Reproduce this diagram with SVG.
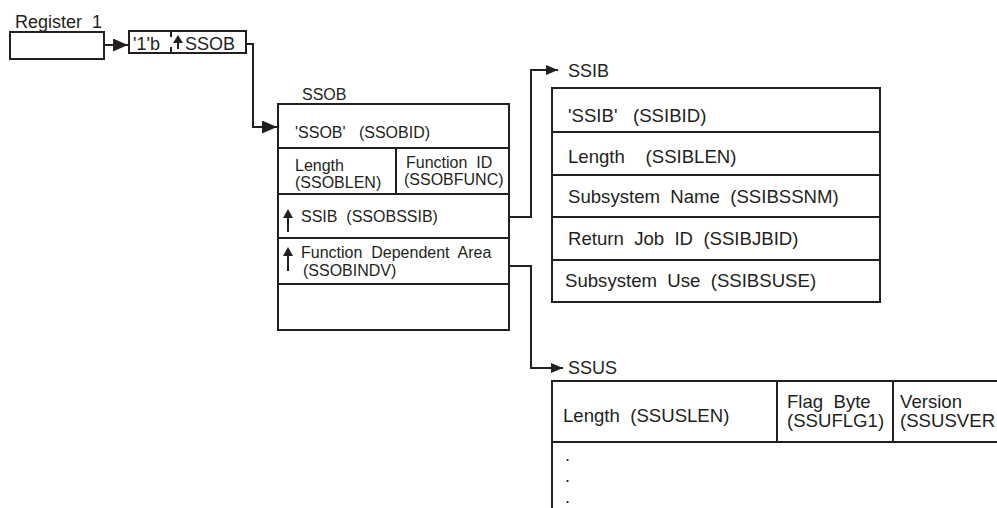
<svg xmlns="http://www.w3.org/2000/svg" width="997" height="508" viewBox="0 0 997 508">
<style>
  .box { fill: #ffffff; stroke: #231f20; stroke-width: 2; }
  .ln { fill: none; stroke: #231f20; stroke-width: 2; }
  .t { font-family: "Liberation Sans", Arial, sans-serif; fill: #231f20; white-space: pre; }
  .s16 { font-size: 16px; }
  .s18 { font-size: 18px; }
  .s185 { font-size: 18.6px; }
  .up { fill: #231f20; stroke: none; }
  .upstem { stroke: #231f20; stroke-width: 2; }
</style>
<defs>
  <marker id="bigArrow" markerUnits="userSpaceOnUse" markerWidth="15" markerHeight="13" refX="15" refY="6.5" orient="auto">
    <path d="M0,0 L15,6.5 L0,13 Z" fill="#231f20"/>
  </marker>
  <marker id="smallArrow" markerUnits="userSpaceOnUse" markerWidth="12" markerHeight="10" refX="12" refY="5" orient="auto">
    <path d="M0,0 L12,5 L0,10 Z" fill="#231f20"/>
  </marker>
</defs>

<g id="register1">
  <text class="t s18" x="15" y="28" xml:space="preserve">Register  1</text>
  <rect class="box" x="10" y="32" width="94" height="27"/>
</g>

<g id="pointer">
  <rect class="box" x="129" y="31" width="117" height="22"/>
  <line class="ln" x1="171" y1="31" x2="171" y2="37"/>
  <line class="ln" x1="171" y1="47" x2="171" y2="53"/>
  <text class="t s18" x="133" y="50">'1'b</text>
  <line class="upstem" x1="178" y1="41" x2="178" y2="49"/>
  <path class="up" d="M178,35 L183,43 L173,43 Z"/>
  <text class="t s18" x="185" y="50">SSOB</text>
</g>

<g id="ssob">
  <text class="t s16" x="302" y="100">SSOB</text>
  <rect class="box" x="278" y="104" width="231" height="226"/>
  <line class="ln" x1="278" y1="148" x2="509" y2="148"/>
  <line class="ln" x1="278" y1="194" x2="509" y2="194"/>
  <line class="ln" x1="278" y1="238" x2="509" y2="238"/>
  <line class="ln" x1="278" y1="284" x2="509" y2="284"/>
  <line class="ln" x1="396" y1="148" x2="396" y2="194"/>
  <text class="t s16" x="295" y="138" xml:space="preserve">'SSOB'   (SSOBID)</text>
  <text class="t s16" x="295" y="171">Length</text>
  <text class="t s16" x="295" y="188">(SSOBLEN)</text>
  <text class="t s16" x="406" y="168" xml:space="preserve">Function  ID</text>
  <text class="t s16" x="404" y="185">(SSOBFUNC)</text>
  <line class="upstem" x1="288" y1="215" x2="288" y2="232"/>
  <path class="up" d="M288,209 L293,218 L283,218 Z"/>
  <text class="t s16" x="301" y="222" xml:space="preserve">SSIB  (SSOBSSIB)</text>
  <line class="upstem" x1="288" y1="253" x2="288" y2="271"/>
  <path class="up" d="M288,247 L293,256 L283,256 Z"/>
  <text class="t s16" x="301" y="258" xml:space="preserve">Function  Dependent  Area</text>
  <text class="t s16" x="303" y="276">(SSOBINDV)</text>
</g>

<g id="ssib">
  <text class="t s18" x="568" y="77">SSIB</text>
  <rect class="box" x="552" y="88" width="328" height="214"/>
  <line class="ln" x1="552" y1="132" x2="880" y2="132"/>
  <line class="ln" x1="552" y1="175" x2="880" y2="175"/>
  <line class="ln" x1="552" y1="217" x2="880" y2="217"/>
  <line class="ln" x1="552" y1="260" x2="880" y2="260"/>
  <text class="t s185" x="568" y="122" xml:space="preserve">'SSIB'   (SSIBID)</text>
  <text class="t s185" x="568" y="163" xml:space="preserve">Length    (SSIBLEN)</text>
  <text class="t s185" x="568" y="203" xml:space="preserve">Subsystem  Name  (SSIBSSNM)</text>
  <text class="t s185" x="568" y="245" xml:space="preserve">Return  Job  ID  (SSIBJBID)</text>
  <text class="t s185" x="565" y="287" xml:space="preserve">Subsystem  Use  (SSIBSUSE)</text>
</g>

<g id="ssus">
  <text class="t s18" x="568" y="374">SSUS</text>
  <line class="ln" x1="552" y1="381" x2="997" y2="381"/>
  <line class="ln" x1="552" y1="380" x2="552" y2="508"/>
  <line class="ln" x1="552" y1="442" x2="997" y2="442"/>
  <line class="ln" x1="777" y1="381" x2="777" y2="442"/>
  <line class="ln" x1="893" y1="381" x2="893" y2="442"/>
  <text class="t s185" x="563" y="422" xml:space="preserve">Length  (SSUSLEN)</text>
  <text class="t s185" x="787" y="408" xml:space="preserve">Flag  Byte</text>
  <text class="t s185" x="787" y="427">(SSUFLG1)</text>
  <text class="t s185" x="900" y="408">Version</text>
  <text class="t s185" x="900" y="427">(SSUSVER</text>
  <text class="t s18" x="565" y="461">.</text>
  <text class="t s18" x="565" y="482">.</text>
  <text class="t s18" x="565" y="503">.</text>
</g>

<g id="connectors">
  <line class="ln" x1="104" y1="45" x2="128" y2="45" marker-end="url(#bigArrow)"/>
  <polyline class="ln" points="246,44 253,44 253,127 277,127" marker-end="url(#bigArrow)"/>
  <polyline class="ln" points="509,217 531,217 531,70 558,70" marker-end="url(#smallArrow)"/>
  <polyline class="ln" points="509,266 531,266 531,368 563,368" marker-end="url(#smallArrow)"/>
</g>
</svg>
